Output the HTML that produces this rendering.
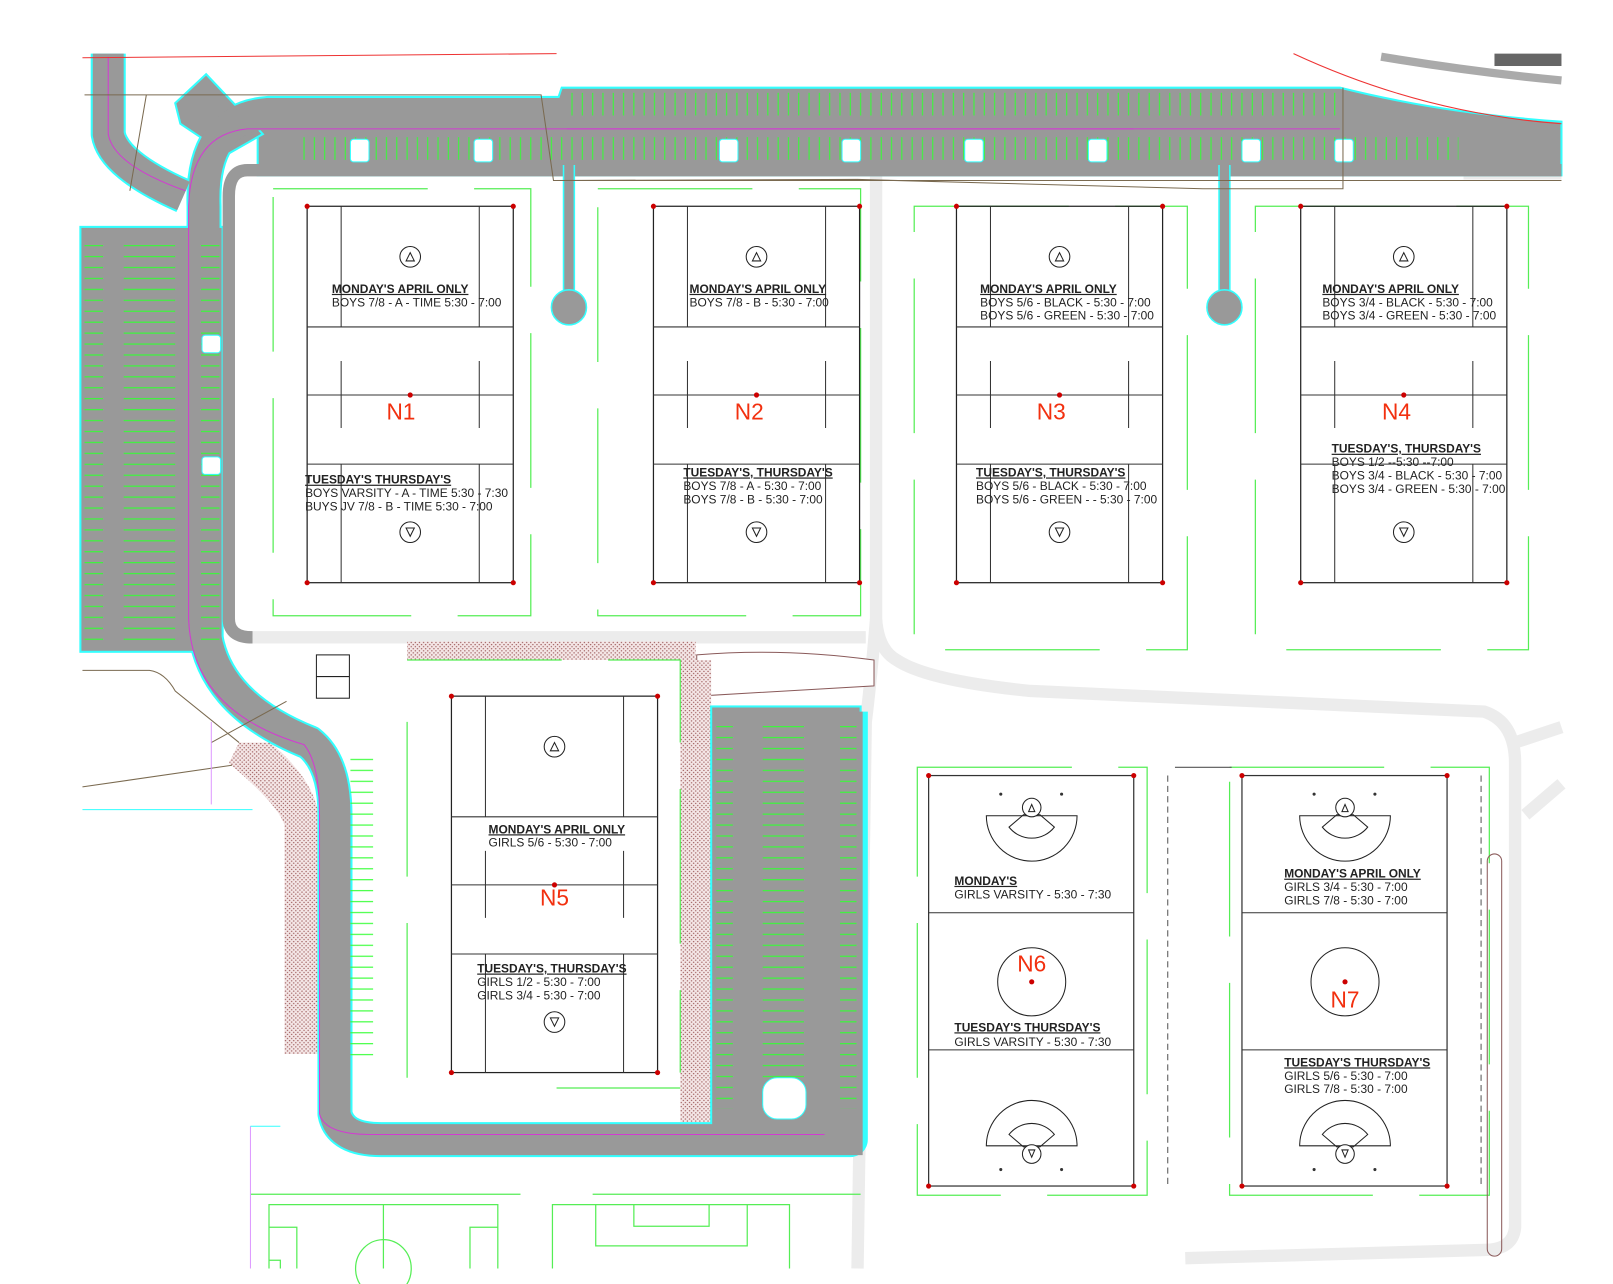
<!DOCTYPE html>
<html><head><meta charset="utf-8"><style>
html,body{margin:0;padding:0;background:#fff;}
svg{display:block}
text{font-family:"Liberation Sans",sans-serif;fill:#222}
.h{font-weight:bold;font-size:11.6px;text-decoration:underline}
.t{font-size:11.6px}
.n{fill:#f2300f;font-size:22px}
</style></head><body>
<svg width="1613" height="1284" viewBox="0 0 1565 1245" preserveAspectRatio="none" xmlns="http://www.w3.org/2000/svg">
<defs>
<pattern id="hat" width="4" height="4" patternUnits="userSpaceOnUse"><rect width="4" height="4" fill="#f4e6e6"/><circle cx="1" cy="1" r="0.7" fill="#a06060"/><circle cx="3" cy="3" r="0.7" fill="#a06060"/></pattern>
<pattern id="hs" width="200" height="10.6" patternUnits="userSpaceOnUse"><line x1="0" y1="5" x2="200" y2="5" stroke="#3f3" stroke-width="1"/></pattern>
<pattern id="vs" width="10" height="50" patternUnits="userSpaceOnUse"><line x1="5" y1="0" x2="5" y2="50" stroke="#3f3" stroke-width="1"/></pattern>
<g id="ft">
<rect x="0" y="0" width="200" height="365" fill="none" stroke="#222" stroke-width="1.2"/>
<line x1="0" y1="117" x2="200" y2="117" stroke="#333"/><line x1="0" y1="183" x2="200" y2="183" stroke="#333"/><line x1="0" y1="250" x2="200" y2="250" stroke="#333"/>
<path d="M33 0V117M167 0V117M33 150V215M167 150V215M33 250V365M167 250V365" stroke="#333"/>
<circle cx="100" cy="49" r="10" fill="#fff" stroke="#222"/><path d="M96 53h8l-4-8z" fill="none" stroke="#222"/>
<circle cx="100" cy="316" r="10" fill="#fff" stroke="#222"/><path d="M96 312h8l-4 8z" fill="none" stroke="#222"/>
<g fill="#c00"><circle cx="0" cy="0" r="2.5"/><circle cx="200" cy="0" r="2.5"/><circle cx="0" cy="365" r="2.5"/><circle cx="200" cy="365" r="2.5"/><circle cx="100" cy="183" r="2.5"/></g>
</g>
<g id="gt">
<rect x="0" y="0" width="199" height="398" fill="none" stroke="#333" stroke-width="1.2"/>
<line x1="0" y1="133" x2="199" y2="133" stroke="#333"/><line x1="0" y1="266" x2="199" y2="266" stroke="#333"/>
<path d="M56 39h88a44 44 0 0 1 -88 0z" fill="#fff" stroke="#222"/>
<path d="M78 50a28 28 0 0 0 44 0l-14-12h-16z" fill="none" stroke="#222"/>
<circle cx="100" cy="31" r="9" fill="#fff" stroke="#222"/><path d="M97 35h6l-3-7z" fill="none" stroke="#222"/>
<circle cx="70" cy="18" r="1.5" fill="#333"/><circle cx="129" cy="18" r="1.5" fill="#333"/>
<path d="M56 359h88a44 44 0 0 0 -88 0z" fill="#fff" stroke="#222"/>
<path d="M78 348a28 28 0 0 1 44 0l-14 12h-16z" fill="none" stroke="#222"/>
<circle cx="100" cy="367" r="9" fill="#fff" stroke="#222"/><path d="M97 363h6l-3 7z" fill="none" stroke="#222"/>
<circle cx="70" cy="382" r="1.5" fill="#333"/><circle cx="129" cy="382" r="1.5" fill="#333"/>
<circle cx="100" cy="200" r="33" fill="none" stroke="#222"/>
<g fill="#c00"><circle cx="0" cy="0" r="2.5"/><circle cx="199" cy="0" r="2.5"/><circle cx="0" cy="398" r="2.5"/><circle cx="199" cy="398" r="2.5"/><circle cx="100" cy="200" r="2.5"/></g>
</g>
</defs>
<rect width="1565" height="1245" fill="#fff"/>

<g fill="none" stroke="#ececec" stroke-width="12">
<path d="M850 170V600Q852 630 870 640Q900 660 1000 670L1440 690Q1470 700 1470 740V1190Q1468 1212 1440 1212L1150 1220"/>
<path d="M850 600Q845 660 840 700L832 1230"/>
<path d="M240 618H840"/>
<path d="M1470 720L1515 705M1480 790L1515 760"/>
<path d="M1420 168H1515"/>
</g>
<path d="M676 635Q760 628 848 640L848 665Q760 670 676 675Z" fill="#fff" stroke="#8a5a5a"/>

<path d="M395 622H675V640H690V1088H660V640H395Z" fill="url(#hat)"/>
<path d="M232 720L262 720Q310 760 310 800V1022H276V800Q270 780 222 740Z" fill="url(#hat)"/>

<g fill="none" stroke-linejoin="round" stroke-linecap="butt">
<path d="M105 52V130Q110 160 178 190" stroke="#3ff" stroke-width="34"/>
<path d="M545 110H260Q195 115 198 200V600Q200 680 300 720Q325 740 325 790V1080Q330 1105 370 1105H825V690" stroke="#3ff" stroke-width="34"/>
</g>
<rect x="78" y="220" width="138" height="412" fill="#999" stroke="#3ff" stroke-width="2"/>
<rect x="690" y="685" width="145" height="410" fill="#999" stroke="#3ff" stroke-width="2"/>
<path d="M545 85H1300Q1400 110 1515 118V170H250V100H540Z" fill="#999" stroke="#3ff" stroke-width="2"/>
<path d="M170 100L200 72L255 130L220 150L175 120Z" fill="#999" stroke="#3ff" stroke-width="2"/>
<g fill="none">
<path d="M105 52V130Q110 160 178 190" stroke="#999" stroke-width="30"/>
<path d="M545 110H260Q195 115 198 200V600Q200 680 300 720Q325 740 325 790V1080Q330 1105 370 1105H822V690" stroke="#999" stroke-width="30"/>
<path d="M1515 165H240Q222 165 222 190V600Q222 618 245 618" stroke="#999" stroke-width="12"/>
<path d="M552 160V290" stroke="#3ff" stroke-width="12"/><path d="M552 160V290" stroke="#999" stroke-width="9"/>
<path d="M1188 160V290" stroke="#3ff" stroke-width="12"/><path d="M1188 160V290" stroke="#999" stroke-width="9"/>
</g>
<circle cx="552" cy="298" r="17" fill="#999" stroke="#3ff" stroke-width="1.5"/>
<circle cx="1188" cy="298" r="17" fill="#999" stroke="#3ff" stroke-width="1.5"/>
<rect x="290" y="133" width="1125" height="22" fill="url(#vs)"/>
<rect x="550" y="90" width="750" height="22" fill="url(#vs)"/>
<rect x="82" y="235" width="18" height="390" fill="url(#hs)"/>
<rect x="120" y="235" width="50" height="390" fill="url(#hs)"/>
<rect x="195" y="235" width="18" height="390" fill="url(#hs)"/>
<rect x="695" y="695" width="16" height="380" fill="url(#hs)"/>
<rect x="740" y="700" width="40" height="360" fill="url(#hs)"/>
<rect x="815" y="695" width="16" height="380" fill="url(#hs)"/>
<rect x="340" y="730" width="22" height="300" fill="url(#hs)"/>
<g fill="#fff" stroke="#3ff">
<rect x="340" y="135" width="18" height="22" rx="3"/><rect x="460" y="135" width="18" height="22" rx="3"/><rect x="698" y="135" width="18" height="22" rx="3"/><rect x="817" y="135" width="18" height="22" rx="3"/><rect x="936" y="135" width="18" height="22" rx="3"/><rect x="1056" y="135" width="18" height="22" rx="3"/><rect x="1205" y="135" width="18" height="22" rx="3"/><rect x="1295" y="135" width="18" height="22" rx="3"/>
<rect x="196" y="325" width="18" height="17" rx="3"/><rect x="196" y="443" width="18" height="17" rx="3"/>
<rect x="740" y="1045" width="42" height="40" rx="14"/>
</g>
<g fill="none" stroke="#d23bd2" stroke-width="1">
<path d="M1100 125H240Q185 130 183 200V600Q186 690 295 722Q310 740 310 790V1080Q315 1100 360 1100H800"/>
<path d="M550 125H1300"/><path d="M105 55V130Q110 160 180 185"/>
</g>
<g stroke="#7a6a50" fill="none" stroke-width="1">
<path d="M82 92H257M142 92L126 185M142 92H525L537 175L832 174L1167 183L1303 183L1303 85M537 175H1515"/>
<path d="M80 763L225 742M205 720L278 680M80 650H145Q160 652 170 670L232 720"/>
</g>
<path d="M80 56L540 52" stroke="#e33" stroke-width="1"/>
<path d="M1255 52Q1380 110 1515 120" stroke="#e33" fill="none"/>
<path d="M1340 55Q1430 70 1515 78" stroke="#aaa" stroke-width="8" fill="none"/>
<rect x="1450" y="52" width="65" height="12" fill="#666"/>

<g fill="none" stroke="#5e5" stroke-width="1.2" stroke-dasharray="150 45">
<rect x="265" y="183" width="250" height="414"/>
<rect x="580" y="183" width="255" height="414"/>
<rect x="887" y="200" width="265" height="430"/>
<rect x="1218" y="200" width="265" height="430"/>
<rect x="890" y="744" width="223" height="415"/>
<rect x="1193" y="744" width="252" height="415"/>
<path d="M395 640H660V1040M540 1055H660M395 700V1060"/>
</g>
<path d="M1133 752V1150M1437 752V1150" stroke="#555" stroke-dasharray="6 4"/>
<line x1="1140" y1="744" x2="1195" y2="744" stroke="#555"/>
<rect x="1443" y="828" width="14" height="390" rx="7" fill="none" stroke="#8a5a5a"/>

<use href="#ft" x="298" y="200"/><use href="#ft" x="634" y="200"/><use href="#ft" x="928" y="200"/><use href="#ft" x="1262" y="200"/>
<use href="#ft" x="438" y="675"/>
<use href="#gt" x="901" y="752"/><use href="#gt" x="1205" y="752"/>

<text class="h" x="322" y="284">MONDAY'S APRIL ONLY</text><text class="t" x="322" y="297">BOYS 7/8 - A - TIME 5:30 - 7:00</text>
<text class="h" x="296" y="469">TUESDAY'S THURSDAY'S</text><text class="t" x="296" y="482">BOYS VARSITY - A - TIME 5:30 - 7:30</text><text class="t" x="296" y="495">BUYS JV 7/8 - B - TIME 5:30 - 7:00</text>
<text class="n" x="389" y="407" text-anchor="middle">N1</text>

<text class="h" x="669" y="284">MONDAY'S APRIL ONLY</text><text class="t" x="669" y="297">BOYS 7/8 - B - 5:30 - 7:00</text>
<text class="h" x="663" y="462">TUESDAY'S, THURSDAY'S</text><text class="t" x="663" y="475">BOYS 7/8 - A - 5:30 - 7:00</text><text class="t" x="663" y="488">BOYS 7/8 - B - 5:30 - 7:00</text>
<text class="n" x="727" y="407" text-anchor="middle">N2</text>

<text class="h" x="951" y="284">MONDAY'S APRIL ONLY</text><text class="t" x="951" y="297">BOYS 5/6 - BLACK - 5:30 - 7:00</text><text class="t" x="951" y="310">BOYS 5/6 - GREEN - 5:30 - 7:00</text>
<text class="h" x="947" y="462">TUESDAY'S, THURSDAY'S</text><text class="t" x="947" y="475">BOYS 5/6 - BLACK - 5:30 - 7:00</text><text class="t" x="947" y="488">BOYS 5/6 - GREEN - - 5:30 - 7:00</text>
<text class="n" x="1020" y="407" text-anchor="middle">N3</text>

<text class="h" x="1283" y="284">MONDAY'S APRIL ONLY</text><text class="t" x="1283" y="297">BOYS 3/4 - BLACK - 5:30 - 7:00</text><text class="t" x="1283" y="310">BOYS 3/4 - GREEN - 5:30 - 7:00</text>
<text class="h" x="1292" y="439">TUESDAY'S, THURSDAY'S</text><text class="t" x="1292" y="452">BOYS 1/2 --5:30 --7:00</text><text class="t" x="1292" y="465">BOYS 3/4 - BLACK - 5:30 - 7:00</text><text class="t" x="1292" y="478">BOYS 3/4 - GREEN - 5:30 - 7:00</text>
<text class="n" x="1355" y="407" text-anchor="middle">N4</text>

<text class="h" x="474" y="808">MONDAY'S APRIL ONLY</text><text class="t" x="474" y="821">GIRLS 5/6 - 5:30 - 7:00</text>
<text class="h" x="463" y="943">TUESDAY'S, THURSDAY'S</text><text class="t" x="463" y="956">GIRLS 1/2 - 5:30 - 7:00</text><text class="t" x="463" y="969">GIRLS 3/4 - 5:30 - 7:00</text>
<text class="n" x="538" y="878" text-anchor="middle">N5</text>

<text class="h" x="926" y="858">MONDAY'S</text><text class="t" x="926" y="871">GIRLS VARSITY - 5:30 - 7:30</text>
<text class="h" x="926" y="1000">TUESDAY'S THURSDAY'S</text><text class="t" x="926" y="1014">GIRLS VARSITY - 5:30 - 7:30</text>
<text class="n" x="1001" y="942" text-anchor="middle">N6</text>

<text class="h" x="1246" y="851">MONDAY'S APRIL ONLY</text><text class="t" x="1246" y="864">GIRLS 3/4 - 5:30 - 7:00</text><text class="t" x="1246" y="877">GIRLS 7/8 - 5:30 - 7:00</text>
<text class="h" x="1246" y="1034">TUESDAY'S THURSDAY'S</text><text class="t" x="1246" y="1047">GIRLS 5/6 - 5:30 - 7:00</text><text class="t" x="1246" y="1060">GIRLS 7/8 - 5:30 - 7:00</text>
<text class="n" x="1305" y="977" text-anchor="middle">N7</text>

<rect x="307" y="635" width="32" height="42" fill="#fff" stroke="#222"/><line x1="307" y1="656" x2="339" y2="656" stroke="#222"/>
<g fill="none" stroke="#5e5" stroke-width="1.2">
<path d="M243 1158H505M575 1158H835"/>
<path d="M261 1230V1168H483V1230M372 1168V1230M261 1190H288V1230M483 1190H456V1230M261 1222H272V1230"/>
<ellipse cx="372" cy="1230" rx="27" ry="28"/>
<path d="M536 1230V1168H766V1230M578 1168V1208H725V1168M615 1168V1189H688V1168"/>
</g>
<path d="M243 1092V1230" stroke="#d9f" /><path d="M243 1092H272" stroke="#3ff"/>
<path d="M205 700V780" stroke="#d9f"/>
<path d="M80 785H245" stroke="#3ff"/>
</svg>
</body></html>
